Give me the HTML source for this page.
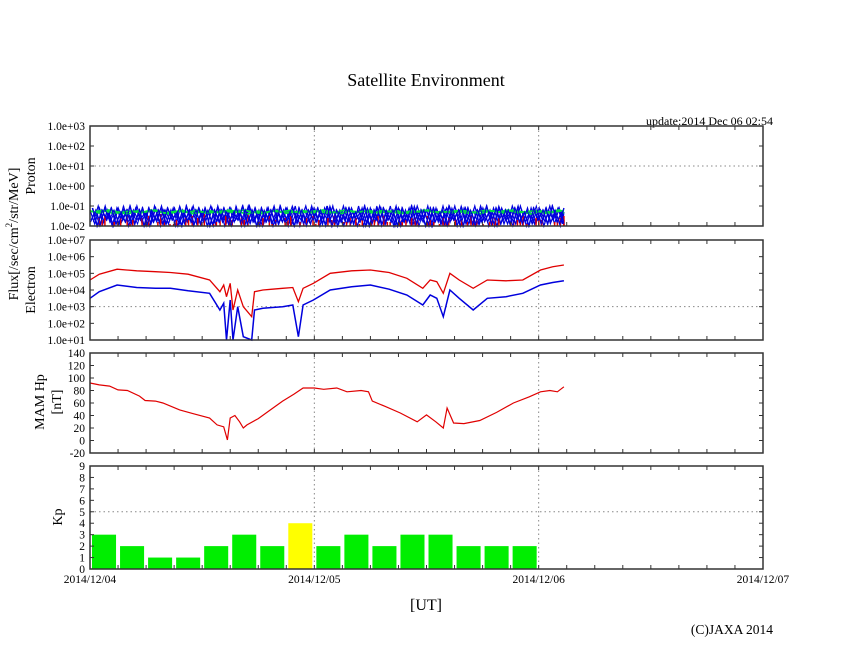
<!DOCTYPE html>
<html><head><meta charset="utf-8">
<style>
body{margin:0;background:#fff;}
svg{display:block;font-family:"Liberation Serif",serif;}
</style></head>
<body>
<svg id="c" width="846" height="655" viewBox="0 0 846 655" xmlns="http://www.w3.org/2000/svg">
<text x="426" y="86" font-size="18" text-anchor="middle">Satellite Environment</text>
<text x="773" y="125" font-size="12" text-anchor="end">update:2014 Dec 06 02:54</text>
<text transform="translate(18,234) rotate(-90)" font-size="14" text-anchor="middle">Flux[/sec/cm<tspan font-size="9" dy="-6">2</tspan><tspan dy="6">/str/MeV]</tspan></text>
<text transform="translate(35,176) rotate(-90)" font-size="14" text-anchor="middle">Proton</text>
<text transform="translate(35,290) rotate(-90)" font-size="14" text-anchor="middle">Electron</text>
<text transform="translate(44,402) rotate(-90)" font-size="14" text-anchor="middle">MAM Hp</text>
<text transform="translate(61,402) rotate(-90)" font-size="14" text-anchor="middle">[nT]</text>
<text transform="translate(62,517) rotate(-90)" font-size="14" text-anchor="middle">Kp</text>
<text x="426" y="610" font-size="16" text-anchor="middle">[UT]</text>
<text x="773" y="634" font-size="13.5" text-anchor="end">(C)JAXA 2014</text>
<g id="g"></g>
</svg>
<script>
// Time axis: hours since 2014/12/04 00:00
const dayLabels = ["2014/12/04","2014/12/05","2014/12/06","2014/12/07"];
// Proton (log10 flux), 0.5 h steps
const protonBlue = [-1.2,-1.9,-1.1,-1.8,-1.3,-2,-1.1,-1.7,-1.2,-1.9,-1.0,-1.8,-1.3,-1.9,-1.1,-2,-1.2,-1.7,-1.1,-1.9,-1.3,-1.8,-1.0,-1.9,-1.2,-2,-1.1,-1.8,-1.2,-1.9,-1.1,-1.7,-1.3,-2,-1.0,-1.8,-1.2,-1.9,-1.1,-2,-1.2,-1.8,-1.1,-1.9,-1.3,-1.7,-1.0,-1.9,-1.2,-2,-1.1,-1.8,-1.2,-1.9,-1.0,-1.8,-1.3,-2,-1.1,-1.9,-1.2,-1.7,-1.1,-1.9,-1.0,-2,-1.2,-1.8,-1.1,-1.9,-1.3,-1.8,-1.0,-2,-1.2,-1.9,-1.1,-1.7,-1.2,-2,-1.1,-1.8,-1.0,-1.9,-1.2,-2,-1.1,-1.8,-1.3,-1.9,-1.0,-1.7,-1.2,-2,-1.1,-1.9,-1.2,-1.8,-1.0,-1.9,-1.1,-1.9];
const protonGreen = [-1.25,-1.35,-1.2,-1.3,-1.4,-1.25,-1.3,-1.2,-1.35,-1.28,-1.22,-1.38,-1.3,-1.25,-1.35,-1.2,-1.3,-1.4,-1.26,-1.32,-1.22,-1.36,-1.3,-1.24,-1.34,-1.2,-1.3,-1.38,-1.25,-1.3,-1.22,-1.35,-1.28,-1.24,-1.36,-1.3,-1.2,-1.32,-1.27,-1.35,-1.22,-1.3,-1.38,-1.25,-1.3,-1.2,-1.34,-1.28,-1.24,-1.36,-1.3,-1.22];
const protonRed = [-2,-1.6,-2,-1.8,-1.5,-2,-1.7,-2,-1.6,-1.9,-2,-1.5,-1.8,-2,-1.7,-1.6,-2,-1.4,-1.9,-2,-1.7,-1.6,-2,-1.8,-1.5,-2,-1.7,-2,-1.6,-1.9,-2,-1.5,-1.8,-2,-1.7,-1.6,-2,-1.8,-1.6,-2,-1.7,-1.5,-2,-1.8,-1.6,-2,-1.7,-1.9,-1.6,-2,-1.8,-1.7];
// Electron (log10 flux)
const elecHours = [0,1,2.9,5,7,8.6,10.5,12.8,13.9,14.3,14.6,15,15.3,15.8,16.4,17.3,17.6,18.5,19.5,20.6,21.7,22.3,22.8,23.9,25.7,28,30,32,33.9,35.6,36.4,37.1,37.8,38.5,39.5,41,42.5,44.5,46.3,48.2,49.5,50.7];
const elecRed = [4.6,4.95,5.25,5.15,5.1,5.05,4.95,4.6,3.9,4.3,3.6,4.4,2.8,4.0,3.0,2.4,3.9,4.0,4.05,4.1,4.15,3.3,4.1,4.4,5.0,5.15,5.2,5.05,4.7,4.1,4.6,4.5,3.8,5.0,4.6,4.1,4.6,4.55,4.6,5.2,5.4,5.5];
const elecBlue = [3.5,3.9,4.3,4.15,4.1,4.1,3.95,3.8,2.8,3.2,1.0,3.4,1.0,3.0,1.2,1.0,2.8,2.9,2.95,3.0,3.1,1.2,3.1,3.4,4.0,4.2,4.3,4.05,3.7,3.1,3.7,3.5,2.4,4.0,3.5,2.8,3.5,3.6,3.8,4.3,4.45,4.55];
// MAM Hp (nT)
const mamHours = [0,1,2.1,3,4,5.3,5.9,7,7.8,9.6,11,12.8,13.6,14.3,14.7,15,15.5,16,16.4,16.8,18,19.3,20.6,21.8,22.8,24,25,26.4,27.5,29,29.8,30.2,31.5,33.2,35,36,37,37.8,38.2,38.9,40,41.7,43.5,45.3,47,48.2,49.2,50,50.7];
const mamHp = [92,89,87,81,80,71,64,63,60,49,43,36,25,22,1,36,40,30,20,25,35,49,63,74,84,84,82,84,78,80,78,63,55,44,30,41,30,20,52,28,27,32,45,60,70,78,80,78,86];
// Kp, 3-hour bins
const kpValues = [3,2,1,1,2,3,2,4,2,3,2,3,3,2,2,2];

const NS="http://www.w3.org/2000/svg";
const g=document.getElementById('g');
const X0=90,X1=763;
function xs(h){return X0+(X1-X0)*h/72;}
function mk(tag,attrs,parent){const e=document.createElementNS(NS,tag);for(const k in attrs)e.setAttribute(k,attrs[k]);(parent||g).appendChild(e);return e;}
const panels=[
 {name:'proton',top:126,bot:226,min:-2,max:3},
 {name:'electron',top:240,bot:340,min:1,max:7},
 {name:'mam',top:353,bot:453,min:-20,max:140},
 {name:'kp',top:466,bot:569,min:0,max:9}];
function ys(p,v){return p.bot-(p.bot-p.top)*(v-p.min)/(p.max-p.min);}
function grid(p,yv){
 const l=mk('line',{x1:X0,x2:X1,y1:ys(p,yv),y2:ys(p,yv),stroke:'#888','stroke-dasharray':'1.5,3','stroke-width':1});
 
 
}
function line(p,hours,vals,color,name,w){
 const pts=hours.map((h,i)=>xs(h).toFixed(1)+','+Math.max(p.top,Math.min(p.bot,ys(p,vals[i]))).toFixed(1)).join(' ');
 const e=mk('polyline',{points:pts,fill:'none',stroke:color,'stroke-width':w||1.2});
 
 
}
panels.forEach(p=>{
 [24,48].forEach(h=>{const l=mk('line',{x1:xs(h),x2:xs(h),y1:p.top,y2:p.bot,stroke:'#888','stroke-dasharray':'1.5,3'});
  
  });
});
grid(panels[0],1);grid(panels[1],3);grid(panels[3],5);
// proton
const P=panels[0];
const pStep=50.7/(protonBlue.length-1);
[0,0.12,0.25,0.37].forEach((off,k)=>{
 line(P,protonBlue.map((v,i)=>Math.min(50.7,i*pStep+off)),protonBlue.map((v,i)=>protonBlue[(i+k*7)%protonBlue.length]),'#0000dd','proton-blue-series',1.2);
});
[0,0.3,0.6].forEach((off,k)=>{
 protonRed.forEach((v,i)=>{const h=Math.min(50.7,i*50.7/(protonRed.length-1)+off);
  const vv=protonRed[(i+k*5)%protonRed.length];
  const e=mk('line',{x1:xs(h),x2:xs(h),y1:P.bot,y2:ys(P,vv),stroke:'#e00000','stroke-width':1.5});
  
  });
});
[0,0.5].forEach((off,k)=>{
 line(P,protonGreen.map((v,i)=>Math.min(50.7,i*50.7/(protonGreen.length-1)+off)),protonGreen.map((v,i)=>protonGreen[(i+k*9)%protonGreen.length]),'#00e040','proton-green-series',1.8);
});
[0.06,0.3].forEach((off,k)=>{
 line(P,protonBlue.map((v,i)=>Math.min(50.7,i*pStep+off)),protonBlue.map((v,i)=>protonBlue[(i+k*11+3)%protonBlue.length]),'#0000dd','proton-blue-series-top',1);
});
// electron
line(panels[1],elecHours,elecRed,'#e00000','electron-red-series',1.3);
line(panels[1],elecHours,elecBlue,'#0000dd','electron-blue-series',1.5);
// mam
line(panels[2],mamHours,mamHp,'#e00000','mam-hp-series',1.2);
// kp bars
const K=panels[3];
kpValues.forEach((v,i)=>{const x=xs(i*3)+2,w=xs(3)-X0-4;
 const r=mk('rect',{x:x,y:ys(K,v),width:w,height:K.bot-ys(K,v),fill:v>=4?'#ffff00':'#00ee00'});
 
 });
// frames, ticks, labels
const yt={proton:[-2,-1,0,1,2,3],electron:[1,2,3,4,5,6,7],mam:[-20,0,20,40,60,80,100,120,140],kp:[0,1,2,3,4,5,6,7,8,9]};
function fmt(p,v){if(p.name==='proton'||p.name==='electron'){const s=v<0?'-':'+';const a=Math.abs(v);return '1.0e'+s+(a<10?'0':'')+a;}return String(v);}
panels.forEach(p=>{
 const f=mk('rect',{x:X0,y:p.top,width:X1-X0,height:p.bot-p.top,fill:'none',stroke:'#333','stroke-width':1.5});
 
 
 for(let h=3;h<72;h+=3){[[p.top,p.top+4],[p.bot,p.bot-4]].forEach(a=>{const t=mk('line',{x1:xs(h),x2:xs(h),y1:a[0],y2:a[1],stroke:'#333'});
  
  });}
 yt[p.name].forEach(v=>{const y=ys(p,v);
  [[X0,X0+4],[X1,X1-4]].forEach(a=>{const t=mk('line',{x1:a[0],x2:a[1],y1:y,y2:y,stroke:'#333'});
   
   });
  const tx=mk('text',{x:85,y:y+4,'font-size':11.5,'text-anchor':'end'});tx.textContent=fmt(p,v);
  
  });
});
dayLabels.forEach((d,i)=>{const t=mk('text',{x:xs(i*24),y:583,'font-size':11.5,'text-anchor':'middle'});t.textContent=d;
 
 });
</script>
</body></html>
